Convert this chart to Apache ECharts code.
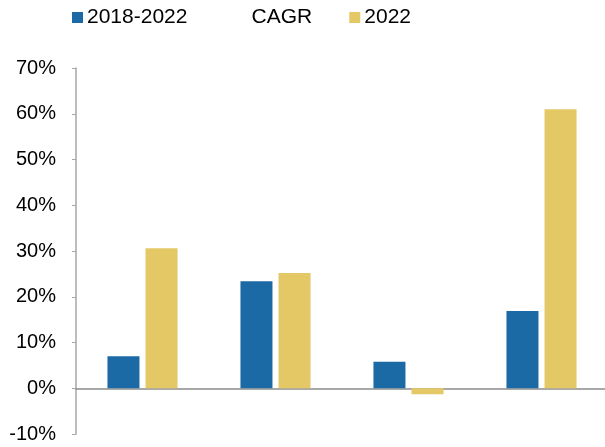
<!DOCTYPE html>
<html>
<head>
<meta charset="utf-8">
<script src="https://cdn.jsdelivr.net/npm/echarts@6/dist/echarts.min.js"></script>
<style>
  html, body { margin: 0; padding: 0; background: #fff; }
  #main { width: 605px; height: 447px; }
</style>
</head>
<body>
<div id="main"></div>
<script>
// 数据
var categories = ['A', 'B', 'C', 'D'];
var cagrValues = [7.0, 23.4, 5.8, 16.9];
var y2022Values = [30.6, 25.2, -1.3, 61.0];
var seriesNames = ['2018-2022 CAGR', '2022'];

var chart = echarts.init(document.getElementById('main'));

var option = {
    animation: false,
    textStyle: { fontFamily: 'Liberation Sans, Arial, sans-serif' },
    // 图例
    legend: {
        left: 72,
        top: 7,
        padding: 0,
        itemWidth: 11,
        itemHeight: 11,
        itemGap: 37,
        icon: 'rect',
        data: seriesNames,
        formatter: function (name) {
            return name.replace(' ', '           ');
        },
        textStyle: { fontSize: 21, color: '#000', padding: [0, 0, 0, -1] }
    },
    grid: { left: 76, width: 532, top: 68, height: 366, outerBoundsMode: 'none' },
    xAxis: {
        type: 'category',
        data: categories,
        axisLine: { lineStyle: { color: '#8c8c8c', width: 1.5 } },
        axisTick: { show: false },
        axisLabel: { show: false }
    },
    yAxis: {
        type: 'value',
        min: -10,
        max: 70,
        interval: 10,
        axisLine: { show: true, lineStyle: { color: '#a6a6a6', width: 1.5 } },
        axisTick: { show: true, length: 4, lineStyle: { color: '#a6a6a6' } },
        splitLine: { show: false },
        axisLabel: {
            margin: 20,
            fontSize: 20,
            color: '#000',
            formatter: '{value}%'
        }
    },
    series: [
        {
            name: seriesNames[0],
            type: 'bar',
            data: cagrValues,
            barWidth: 32,
            barGap: '19%',
            itemStyle: { color: '#1b6aa6' }
        },
        {
            name: seriesNames[1],
            type: 'bar',
            data: y2022Values,
            barWidth: 32,
            itemStyle: { color: '#e4c865' }
        }
    ]
};

chart.setOption(option);
</script>
</body>
</html>
